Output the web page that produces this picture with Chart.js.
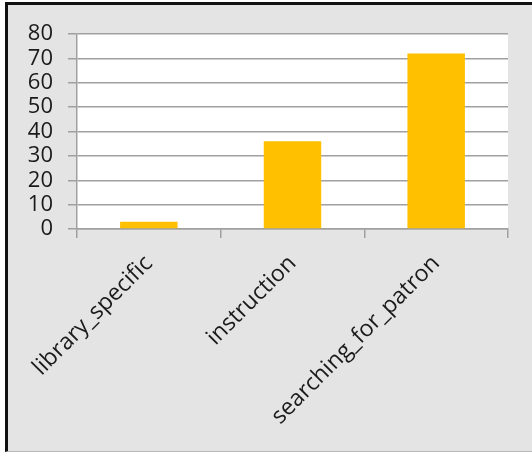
<!DOCTYPE html>
<html>
<head>
<meta charset="utf-8">
<script src="https://cdn.jsdelivr.net/npm/chart.js@4.4.1/dist/chart.umd.min.js"></script>
<style>
    html, body { margin: 0; padding: 0; background: #ffffff; overflow: hidden; }
    #frame {
        position: absolute; left: 5px; top: 2px; width: 524px; height: 446px;
        background: #e4e4e4;
        border-left: 3px solid #111;
        border-top: 3px solid #111;
        border-bottom: 1px solid #b8b8b8;
    }
    #wrap { position: absolute; left: 0; top: 0; width: 532px; height: 452px; }
</style>
</head>
<body>
<div id="frame"></div>
<div id="wrap"><canvas id="chart" width="532" height="452"></canvas></div>
<script>
// Chart data
const categories = ['library_specific', 'instruction', 'searching_for_patron'];
const counts = [3, 36, 72];
const yTicks = [0, 10, 20, 30, 40, 50, 60, 70, 80];

// White plot area behind the bars
const plotBackground = {
    id: 'plotBackground',
    beforeDraw(chart) {
        const { ctx, chartArea } = chart;
        ctx.save();
        ctx.fillStyle = '#ffffff';
        ctx.fillRect(chartArea.left, chartArea.top, chartArea.right - chartArea.left, chartArea.bottom - chartArea.top);
        ctx.restore();
    }
};

const ctx = document.getElementById('chart').getContext('2d');
new Chart(ctx, {
    type: 'bar',
    data: {
        labels: categories,
        datasets: [{
            data: counts,
            backgroundColor: '#FFC000',
            borderWidth: 0,
            categoryPercentage: 1.0,
            barPercentage: 0.4
        }]
    },
    options: {
        responsive: false,
        animation: false,
        layout: { padding: { top: 34, right: 24, left: 0, bottom: 0 } },
        plugins: {
            legend: { display: false },
            tooltip: { enabled: false }
        },
        scales: {
            x: {
                grid: {
                    drawOnChartArea: false,
                    drawTicks: true,
                    tickLength: 9,
                    color: '#a0a0a0',
                    lineWidth: 1.5
                },
                border: { color: '#a0a0a0', width: 1.5 },
                ticks: {
                    autoSkip: false,
                    minRotation: 45,
                    maxRotation: 45,
                    padding: 12,
                    color: '#1a1a1a',
                    font: { family: 'Open Sans', size: 23 }
                },
                afterFit(scale) { scale.height = 223; }
            },
            y: {
                min: 0,
                max: 80,
                afterBuildTicks(scale) { scale.ticks = yTicks.map(v => ({ value: v })); },
                grid: {
                    color: '#a0a0a0',
                    lineWidth: 1.5,
                    tickLength: 9
                },
                border: { color: '#a0a0a0', width: 1.5 },
                ticks: {
                    autoSkip: false,
                    padding: 15,
                    color: '#1a1a1a',
                    font: { family: 'Open Sans', size: 22 }
                },
                afterFit(scale) { scale.width = 77; }
            }
        }
    },
    plugins: [plotBackground]
});
</script>
</body>
</html>
